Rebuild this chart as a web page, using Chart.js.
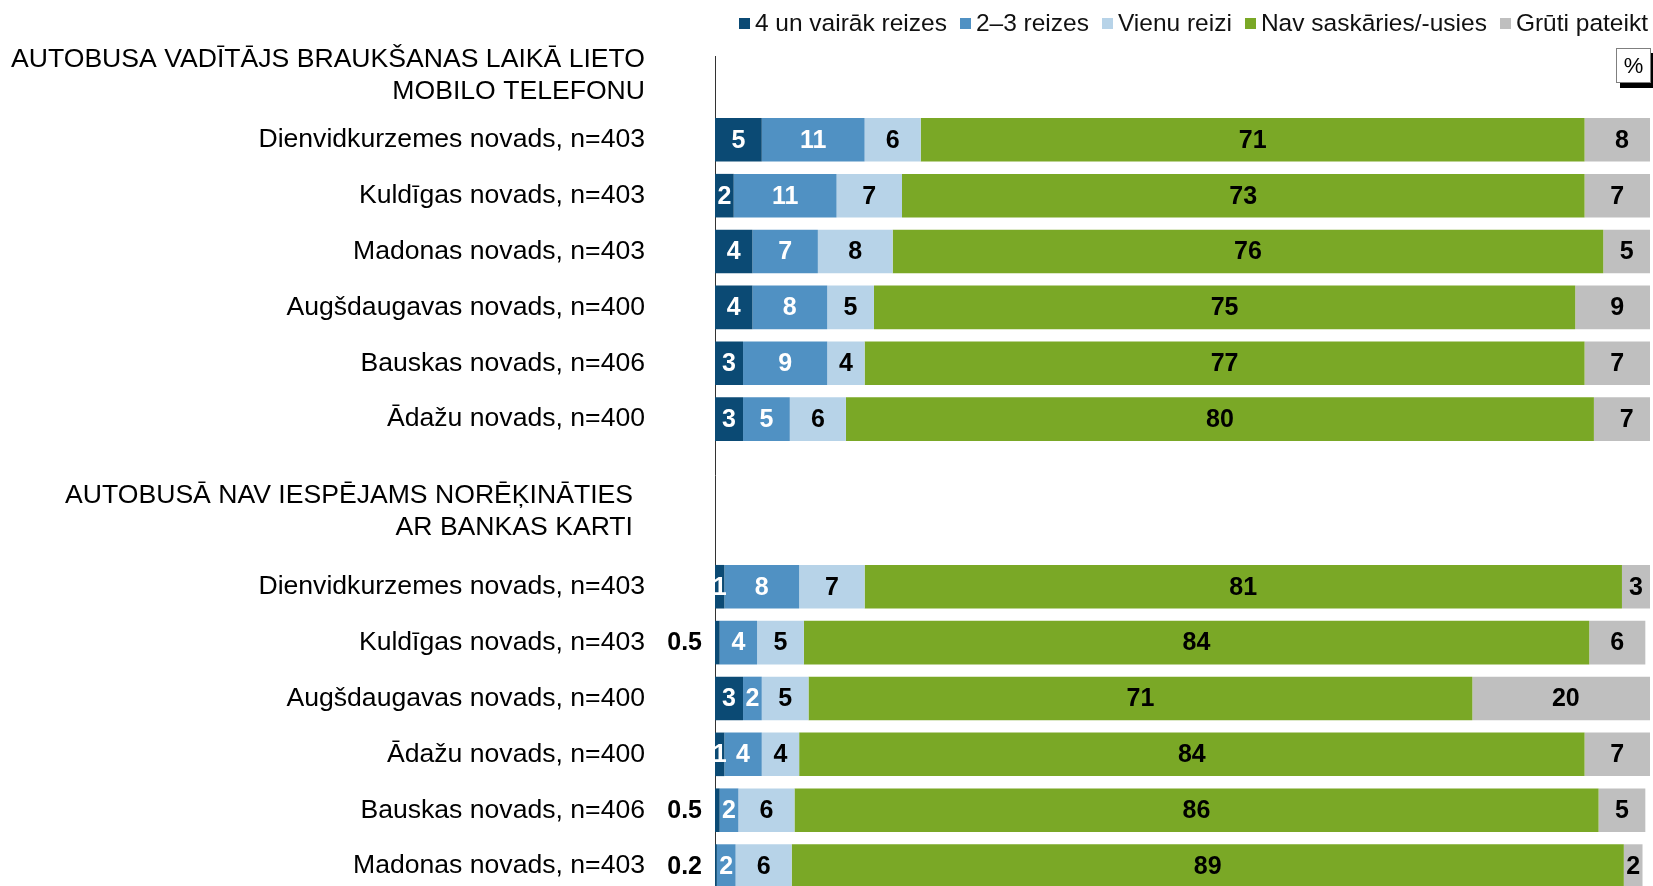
<!DOCTYPE html>
<html>
<head>
<meta charset="utf-8">
<script src="https://cdn.jsdelivr.net/npm/chart.js@4.4.1/dist/chart.umd.min.js"></script>
<style>
  html, body { margin: 0; padding: 0; background: #fff; overflow: hidden; }
  #wrap { position: relative; width: 1653px; height: 894px; }
  #legend { position: absolute; right: 5px; top: 9px; display: flex; align-items: center;
            font-family: "Liberation Sans", Arial, Helvetica, sans-serif; font-size: 24.5px; color: #111; line-height: 28px; }
  #legend .item { display: flex; align-items: center; margin-left: 13px; white-space: nowrap; }
  #legend .item:first-child { margin-left: 0; }
  #legend .sw { width: 11px; height: 11px; margin-right: 5px; }
</style>
</head>
<body>
<div id="wrap"><canvas id="c"></canvas><div id="legend"></div></div>
<script>
const categories = [
  '',
  'Dienvidkurzemes novads, n=403',
  'Kuldīgas novads, n=403',
  'Madonas novads, n=403',
  'Augšdaugavas novads, n=400',
  'Bauskas novads, n=406',
  'Ādažu novads, n=400',
  '',
  '',
  'Dienvidkurzemes novads, n=403',
  'Kuldīgas novads, n=403',
  'Augšdaugavas novads, n=400',
  'Ādažu novads, n=400',
  'Bauskas novads, n=406',
  'Madonas novads, n=403'
];
const sectionTitles = [
  ['AUTOBUSA VADĪTĀJS BRAUKŠANAS LAIKĀ LIETO', 'MOBILO TELEFONU'],
  ['AUTOBUSĀ NAV IESPĒJAMS NORĒĶINĀTIES', 'AR BANKAS KARTI']
];
const sectionFirstRow = [1, 9];

const seriesNames = ['4 un vairāk reizes', '2–3 reizes', 'Vienu reizi', 'Nav saskāries/-usies', 'Grūti pateikt'];
const fourPlus = [null, 5, 2, 4, 4, 3, 3, null, null, 1, 0.5, 3, 1, 0.5, 0.2];
const twoThree = [null, 11, 11, 7, 8, 9, 5, null, null, 8, 4, 2, 4, 2, 2];
const once     = [null, 6, 7, 8, 5, 4, 6, null, null, 7, 5, 5, 4, 6, 6];
const never    = [null, 71, 73, 76, 75, 77, 80, null, null, 81, 84, 71, 84, 86, 89];
const hardSay  = [null, 8, 7, 5, 9, 7, 7, null, null, 3, 6, 20, 7, 5, 2];

const colors = ['#0b4a74', '#5091c3', '#b7d3e8', '#7aa826', '#bfbfbf'];
const labelColors = ['#ffffff', '#ffffff', '#000000', '#000000', '#000000'];
const FONT = '"Liberation Sans", Arial, Helvetica, sans-serif';

const seriesData = [fourPlus, twoThree, once, never, hardSay];

const datasets = seriesData.map((d, i) => ({
  label: seriesNames[i],
  data: d,
  backgroundColor: colors[i],
  borderWidth: 0,
  labelColor: labelColors[i],
  categoryPercentage: 1.0,
  barPercentage: 0.78
}));

const lg = document.getElementById('legend');
seriesNames.forEach((n, i) => {
  const it = document.createElement('div');
  it.className = 'item';
  const sw = document.createElement('span');
  sw.className = 'sw';
  sw.style.background = colors[i];
  const tx = document.createElement('span');
  tx.textContent = n;
  it.appendChild(sw); it.appendChild(tx);
  lg.appendChild(it);
});

const valueLabels = {
  id: 'valueLabels',
  afterDatasetsDraw(chart) {
    const ctx = chart.ctx;
    ctx.save();
    ctx.font = 'bold 25px ' + FONT;
    ctx.textBaseline = 'middle';
    chart.data.datasets.forEach((ds, di) => {
      const meta = chart.getDatasetMeta(di);
      if (meta.hidden) return;
      meta.data.forEach((el, i) => {
        const v = ds.data[i];
        if (v == null) return;
        const p = el.getProps(['x', 'y', 'base'], true);
        if (v < 1) {
          ctx.textAlign = 'right';
          ctx.fillStyle = '#000';
          ctx.fillText(String(v), chart.chartArea.left - 13, p.y + 1);
        } else {
          ctx.textAlign = 'center';
          ctx.fillStyle = ds.labelColor;
          ctx.fillText(String(v), (p.x + p.base) / 2, p.y + 1);
        }
      });
    });
    ctx.restore();
  }
};

const decorations = {
  id: 'decorations',
  afterDraw(chart) {
    const ctx = chart.ctx;
    const ys = chart.scales.y;
    const area = chart.chartArea;
    ctx.save();
    ctx.font = '26.6px ' + FONT;
    ctx.fillStyle = '#000';
    ctx.textAlign = 'right';
    ctx.textBaseline = 'middle';
    const offsets = [[-80, -48], [-91, -59]];
    const rights = [area.left - 70, area.left - 82];
    sectionTitles.forEach((lines, s) => {
      const yRow = ys.getPixelForValue(sectionFirstRow[s]);
      lines.forEach((t, li) => {
        ctx.fillText(t, rights[s], yRow + offsets[s][li]);
      });
    });
    const bx = area.right - 34, by = area.top - 8, bw = 35, bh = 35;
    ctx.fillStyle = '#000';
    ctx.fillRect(bx + 4, by + 5, bw, bh);
    ctx.fillStyle = '#fff';
    ctx.fillRect(bx, by, bw, bh);
    ctx.strokeStyle = '#7f7f7f';
    ctx.lineWidth = 1;
    ctx.strokeRect(bx + 0.5, by + 0.5, bw - 1, bh - 1);
    ctx.fillStyle = '#000';
    ctx.font = '22px ' + FONT;
    ctx.textAlign = 'center';
    ctx.fillText('%', bx + bw / 2, by + bh / 2 + 1);
    ctx.restore();
  }
};

new Chart(document.getElementById('c'), {
  type: 'bar',
  data: { labels: categories, datasets },
  options: {
    indexAxis: 'y',
    responsive: true,
    maintainAspectRatio: false,
    animation: false,
    layout: { padding: { top: 56, right: 3, bottom: 0, left: 0 } },
    plugins: {
      tooltip: { enabled: false },
      legend: { display: false }
    },
    scales: {
      x: {
        stacked: true,
        min: 0,
        max: 100,
        display: false,
        grid: { display: false }
      },
      y: {
        stacked: true,
        grid: { display: false, drawTicks: false },
        border: { display: true, color: '#333', width: 1 },
        afterFit(scale) {
          scale.width = 715;
          scale.paddingTop = 0;
          scale.paddingBottom = 0;
        },
        ticks: {
          autoSkip: false,
          padding: 70,
          color: '#000',
          font: { size: 26.6, family: FONT }
        }
      }
    }
  },
  plugins: [valueLabels, decorations]
});
</script>
</body>
</html>
